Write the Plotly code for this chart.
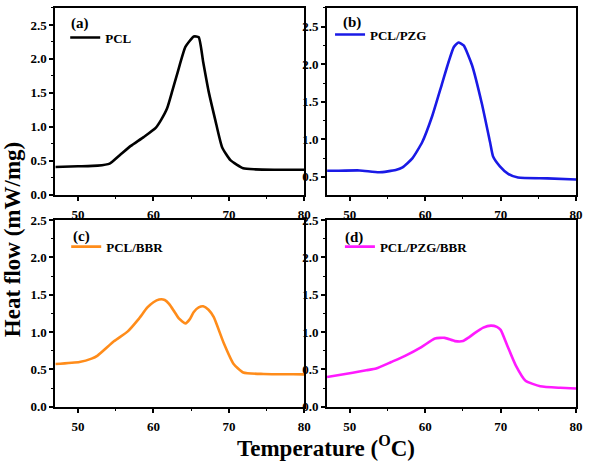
import plotly.graph_objects as go

# Panel (a) PCL
a_x = [47.0, 50.0, 52.6, 54.2, 55.6, 57.0, 58.7, 60.3, 61.0, 61.8, 62.5, 63.2, 64.25, 65.35, 66.0, 66.6, 67.3, 68.2, 69.1, 70.2, 71.9, 73.5, 76.0, 80.0]
a_y = [0.41, 0.42, 0.43, 0.46, 0.59, 0.72, 0.85, 0.986, 1.10, 1.27, 1.53, 1.80, 2.18, 2.33, 2.32, 1.95, 1.53, 1.10, 0.70, 0.51, 0.39, 0.375, 0.37, 0.37]

# Panel (b) PCL/PZG
b_x = [47.0, 47.8, 51.3, 53.9, 56.1, 57.0, 58.3, 59.6, 60.9, 62.2, 63.1, 63.8, 64.4, 65.1, 66.2, 67.5, 68.6, 69.0, 69.9, 71.0, 72.3, 76.2, 80.0]
b_y = [0.58, 0.58, 0.585, 0.56, 0.59, 0.625, 0.745, 0.96, 1.30, 1.73, 2.03, 2.23, 2.29, 2.25, 1.99, 1.48, 0.96, 0.77, 0.64, 0.54, 0.49, 0.48, 0.465]

# Panel (c) PCL/BBR
c_x = [47.0, 50.2, 51.8, 52.6, 54.8, 56.6, 58.0, 59.2, 60.0, 60.75, 61.5, 62.1, 62.8, 63.4, 64.25, 64.8, 65.35, 66.0, 66.6, 67.3, 68.0, 69.3, 70.6, 71.9, 74.6, 78.5, 80.0]
c_y = [0.573, 0.60, 0.645, 0.686, 0.88, 1.01, 1.17, 1.33, 1.40, 1.436, 1.43, 1.375, 1.27, 1.18, 1.117, 1.17, 1.27, 1.33, 1.345, 1.30, 1.20, 0.858, 0.578, 0.46, 0.44, 0.436, 0.435]

# Panel (d) PCL/PZG/BBR
d_x = [47.0, 50.4, 52.2, 53.5, 55.5, 57.4, 59.5, 61.3, 62.6, 63.95, 65.0, 65.8, 66.6, 67.7, 68.7, 69.5, 70.0, 70.9, 72.0, 73.3, 75.25, 77.9, 80.0]
d_y = [0.40, 0.457, 0.49, 0.513, 0.60, 0.686, 0.80, 0.915, 0.923, 0.88, 0.88, 0.93, 0.99, 1.06, 1.087, 1.07, 1.03, 0.815, 0.556, 0.35, 0.276, 0.255, 0.246]

names = ["PCL", "PCL/PZG", "PCL/BBR", "PCL/PZG/BBR"]
labels = ["(a)", "(b)", "(c)", "(d)"]
colors = ["#000000", "#1a1ae6", "#ff8c1a", "#ff1aff"]
xs = [a_x, b_x, c_x, d_x]
ys = [a_y, b_y, c_y, d_y]
y_ranges = [[0, 2.75], [0.26, 2.75], [0, 2.5], [0, 2.5]]
y_ticks = [[0, 0.5, 1.0, 1.5, 2.0, 2.5], [0.5, 1.0, 1.5, 2.0, 2.5], [0, 0.5, 1.0, 1.5, 2.0, 2.5], [0, 0.5, 1.0, 1.5, 2.0, 2.5]]
x_ticks = [50, 60, 70, 80]

W, H = 591, 472
FONT = "Liberation Serif, Times New Roman, serif"
xdoms = [[56 / W, 308 / W], [331 / W, 583 / W], [56 / W, 308 / W], [331 / W, 583 / W]]
ydoms = [[1 - 194 / H, 1 - 1 / H], [1 - 194 / H, 1 - 1 / H], [1 - 413 / H, 1 - 220 / H], [1 - 413 / H, 1 - 220 / H]]
leg_pos = [(66, 16), (334, 13), (67, 232), (344, 232)]
lab_pos = [(70, 17), (345, 16), (72, 237), (347, 238)]

fig = go.Figure()
layout = dict(
    width=W, height=H, margin=dict(l=0, r=0, t=0, b=0),
    paper_bgcolor="white", plot_bgcolor="white",
    font=dict(family=FONT, size=13, color="black"),
    annotations=[], showlegend=True,
)
for i in range(4):
    sfx = "" if i == 0 else str(i + 1)
    lg = "legend" if i == 0 else "legend" + str(i + 1)
    fig.add_trace(go.Scatter(
        x=xs[i], y=ys[i], mode="lines", name="<b>" + names[i] + "</b>",
        line=dict(color=colors[i], width=2.6, shape="spline", smoothing=0.5),
        xaxis="x" + sfx, yaxis="y" + sfx, legend=lg,
    ))
    axcommon = dict(showline=True, linecolor="black", linewidth=2, mirror=True,
                    ticks="outside", ticklen=4, tickwidth=1.5, tickcolor="black",
                    showgrid=False, zeroline=False, ticklabeloverflow="allow",
                    tickfont=dict(family=FONT, size=13, color="black"))
    minor = dict(ticks="outside", ticklen=2, tickwidth=1, tickcolor="black")
    layout["xaxis" + sfx] = dict(axcommon, domain=xdoms[i], range=[47, 80], tickvals=x_ticks,
                                 ticktext=[f"<b>{v}</b>" for v in x_ticks], ticklabelstandoff=3,
                                 anchor="y" + sfx, minor=dict(minor, dtick=5, tick0=0))
    layout["yaxis" + sfx] = dict(axcommon, domain=ydoms[i], range=y_ranges[i], tickvals=y_ticks[i],
                                 ticktext=[f"<b>{v:.1f}</b>" for v in y_ticks[i]], anchor="x" + sfx,
                                 minor=dict(minor, dtick=0.25, tick0=0))
    layout[lg] = dict(x=leg_pos[i][0] / W, y=1 - leg_pos[i][1] / H, xanchor="left", yanchor="top",
                      bgcolor="rgba(0,0,0,0)", borderwidth=0,
                      font=dict(family=FONT, size=13, color="black"))
    layout["annotations"].append(dict(
        text="<b>" + labels[i] + "</b>", x=lab_pos[i][0] / W, y=1 - lab_pos[i][1] / H,
        xref="paper", yref="paper", xanchor="left", yanchor="middle", showarrow=False,
        font=dict(family=FONT, size=15, color="black")))

layout["annotations"].append(dict(
    text="<b>Heat flow (mW/mg)</b>", x=13 / W, y=1 - 240 / H, xref="paper", yref="paper",
    textangle=-90, showarrow=False, xanchor="center", yanchor="middle",
    font=dict(family=FONT, size=23, color="black")))
layout["annotations"].append(dict(
    text="<b>Temperature (<sup>O</sup>C)</b>", x=330 / W, y=1 - 454 / H, xref="paper", yref="paper",
    showarrow=False, xanchor="center", yanchor="middle",
    font=dict(family=FONT, size=23, color="black")))

fig.update_layout(**layout)
fig.write_html("out.html", config={"displayModeBar": False},
               post_script="document.body.style.margin='0';document.body.style.overflow='hidden';")
